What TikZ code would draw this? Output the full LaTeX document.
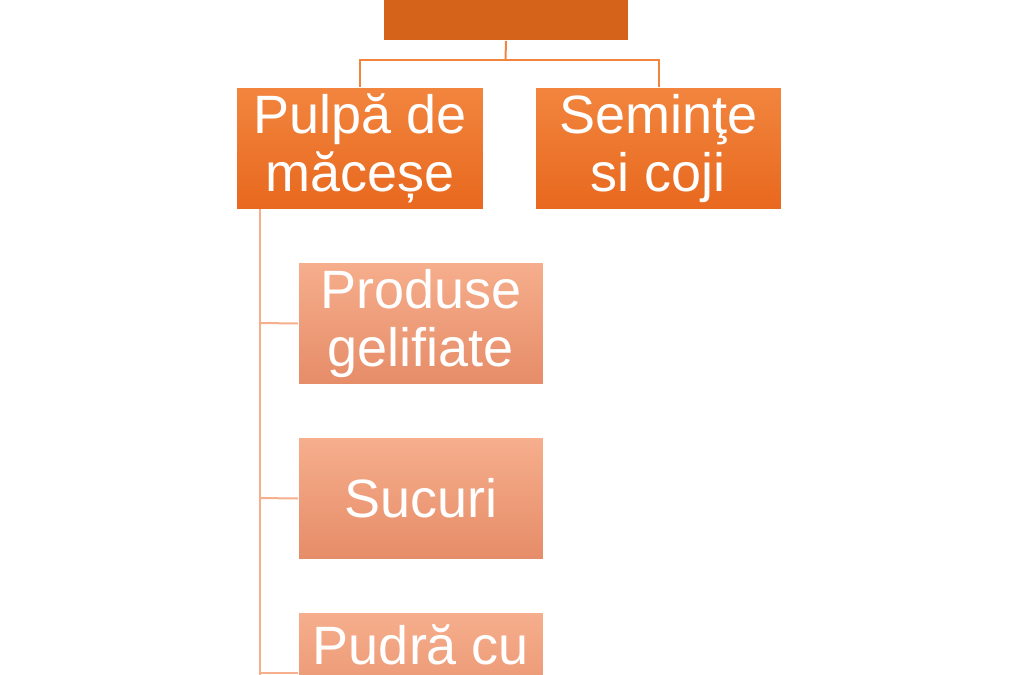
\documentclass[tikz,border=0pt]{standalone}
\usepackage{fontspec}
\setmainfont{Liberation Sans}
\begin{document}
\begin{tikzpicture}[x=1pt,y=-1pt,
  lvone/.style={draw=white,line width=1pt,top color=orange1a,bottom color=orange1b,text=white,align=center,minimum width=247pt,minimum height=122pt,inner sep=0pt,font=\fontsize{54}{58}\selectfont,anchor=north west},
  lvtwo/.style={lvone,top color=salmon1a,bottom color=salmon1b,minimum width=245pt},
  conone/.style={draw=orange1a,line width=2pt},
  contwo/.style={draw=salmon1a,line width=2pt}]
\definecolor{orange1a}{HTML}{F2853E}
\definecolor{orange1b}{HTML}{E8681E}
\definecolor{topc}{HTML}{D5631A}
\definecolor{salmon1a}{HTML}{F6AE8C}
\definecolor{salmon1b}{HTML}{E68C68}
\useasboundingbox (0,0) rectangle (1018,675);
\clip (0,0) rectangle (1018,675);
\node[lvone,top color=topc,bottom color=topc,minimum width=245pt] (top) at (383,-82) {};
\node[text=white,font=\fontsize{54}{58}\selectfont,inner sep=0pt] (topt) at (506,-6) {,};
\node[lvone] (pulpa) at (236,87) {Pulpă de\\măceșe};
\node[lvone,minimum width=246pt] (sem) at (535,87) {Seminţe\\si coji};
\node[lvtwo] (prod) at (298,262) {Produse\\gelifiate};
\node[lvtwo] (suc) at (298,437) {Sucuri};
\node[lvtwo,text depth=0pt] (pud) at (298,612) {Pudră cu\\x};
\coordinate (j) at (505.5,60);
\draw[conone] (top.south) -- (j);
\draw[conone] (pulpa.north) |- (j) -| (sem.north);
\coordinate (v) at (260,209);
\coordinate (vend) at (260,675);
\draw[contwo] (v) -- (vend);
\draw[contwo] (260,323) -- (prod.west);
\draw[contwo] (260,498) -- (suc.west);
\draw[contwo] (260,673) -- (pud.west|-0,673);
\end{tikzpicture}
\end{document}
